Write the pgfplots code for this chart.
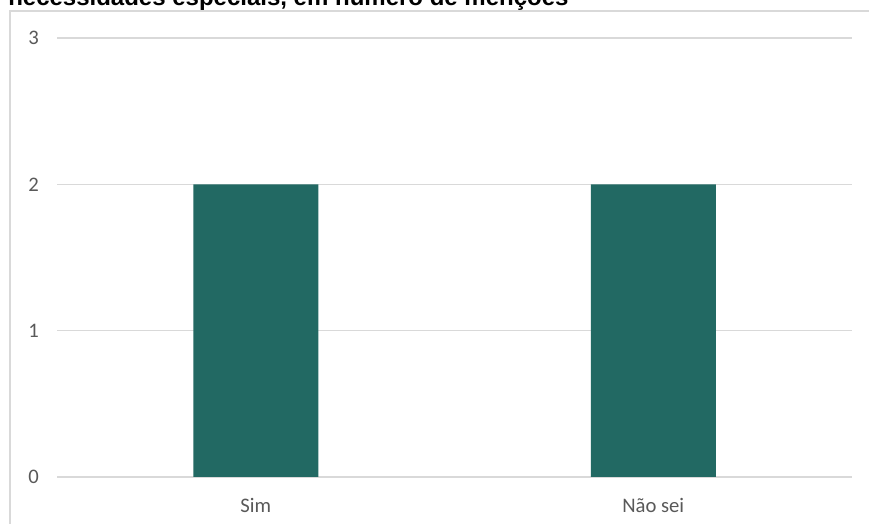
\documentclass[border=0pt]{standalone}
\usepackage{fontspec}
\setmainfont{Carlito}
\newfontfamily\titlefont{Liberation Sans}
\usepackage{pgfplots}
\pgfplotsset{compat=1.18}
\definecolor{barteal}{HTML}{226963}
\definecolor{gridgray}{HTML}{D9D9D9}
\definecolor{labelgray}{HTML}{595959}
\begin{document}
\begin{tikzpicture}
  % page = 869x524 px, 1 px = 0.75 pt
  \useasboundingbox (0,0) rectangle (651.75pt,393pt);
  \clip (0,0) rectangle (651.75pt,393pt);

  % outer chart frame (cut at right and bottom)
  \draw[gridgray, line width=1.1pt] (7.5pt,-20pt) rectangle (670pt,384.75pt);

  % title, cut at the top
  \node[anchor=base west, inner sep=0pt, font=\titlefont\bfseries\fontsize{18pt}{21pt}\selectfont]
    at (6pt,388.5pt) {necessidades especiais, em número de menções};

  \begin{axis}[
    at={(42.75pt,35.25pt)}, anchor=south west,
    scale only axis,
    width=596.25pt, height=329.25pt,
    xmin=-0.5, xmax=1.5,
    ymin=0, ymax=3,
    xtick={0,1},
    xticklabels={Sim, Não sei},
    ytick={0,1,2,3},
    axis line style={draw=none},
    tick style={draw=none},
    ymajorgrids,
    major grid style={gridgray, line width=1.1pt},
    /pgf/number format/assume math mode=true,
    ticklabel style={font=\fontsize{15.5pt}{18pt}\selectfont, text=labelgray},
    yticklabel style={xshift=-10pt},
    xticklabel style={anchor=base, yshift=-27pt},
  ]
    \addplot[ybar, bar width=93.75pt, bar shift=0pt, fill=barteal, draw=none]
      coordinates {(0,2) (1,2)};
  \end{axis}
\end{tikzpicture}
\end{document}
